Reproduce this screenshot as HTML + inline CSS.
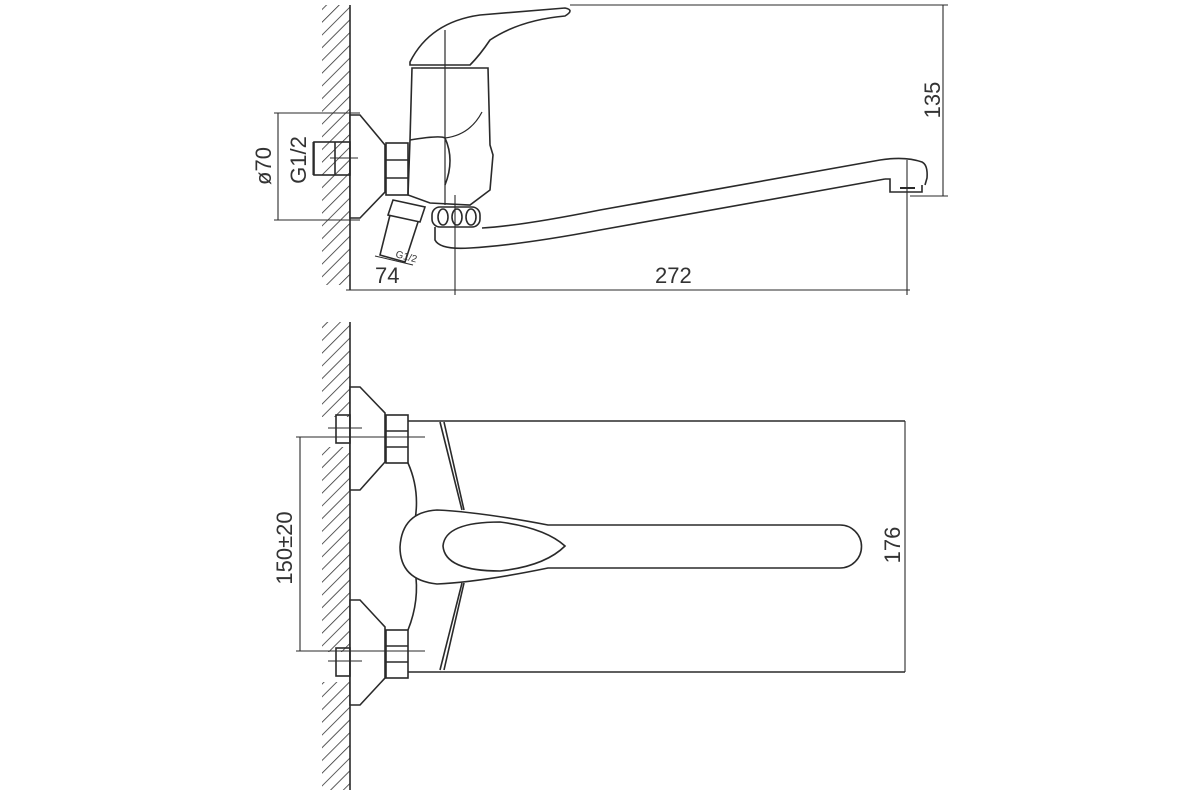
<!DOCTYPE html>
<html><head><style>body{margin:0;background:#fff}svg{display:block}</style></head><body>
<svg width="1200" height="800" viewBox="0 0 1200 800" xmlns="http://www.w3.org/2000/svg" font-family="Liberation Sans, sans-serif">
<defs>
<pattern id="h" width="9" height="9" patternUnits="userSpaceOnUse" patternTransform="rotate(45)">
<line x1="0" y1="0" x2="0" y2="9" stroke="#333" stroke-width="1.6"/></pattern>
</defs>
<g fill="none" stroke="#2a2a2a" stroke-width="1.6">
<!-- TOP VIEW -->
<rect x="322" y="5" width="28" height="280" fill="url(#h)" stroke="none"/>
<line x1="350" y1="5" x2="350" y2="290"/>
<!-- flange -->
<polygon points="350,115 360,115 385,145 385,192 360,218 350,218" fill="#fff"/>
<rect x="314" y="142" width="36" height="33"/>
<line x1="335" y1="142" x2="335" y2="175"/>
<line x1="330" y1="158" x2="358" y2="158" stroke-width="1"/>
<rect x="386" y="143" width="22" height="52"/>
<line x1="386" y1="160" x2="408" y2="160"/><line x1="386" y1="178" x2="408" y2="178"/>
<!-- body -->
<path d="M410,62 Q430,22 480,15 L565,8 Q575,10 565,16 Q520,20 490,40 Q480,55 470,65 L410,65 Z" fill="#fff"/>
<line x1="445" y1="30" x2="445" y2="205" stroke-width="1.2"/>
<path d="M412,68 L488,68 L490,145 L493,155 L490,190 L470,205 L430,203 L408,195 L410,140 Z"/>
<path d="M410,140 Q440,135 445,138 Q455,160 445,185" />
<path d="M445,138 Q470,135 482,112" stroke-width="1.2"/>
<rect x="432" y="207" width="48" height="20" rx="8"/>
<ellipse cx="443" cy="217" rx="5" ry="8"/><ellipse cx="457" cy="217" rx="5" ry="8"/><ellipse cx="471" cy="217" rx="5" ry="8"/>
<!-- spout -->
<path d="M482,228 Q520,226 600,210 L880,160 Q905,156 922,162 Q928,165 927,178 L925,185"/>
<path d="M435,227 L435,240 Q440,250 470,248 Q520,245 600,230 L885,179"/>
<path d="M885,179 L890,179 L890,192 L922,192 L922,185"/>
<line x1="900" y1="188" x2="915" y2="188" stroke-width="2"/>
<!-- lower G1/2 pipe -->
<path d="M393,200 L425,207 L420,222 L388,215 Z"/>
<path d="M390,215 L380,255 L405,262 L418,222"/>
<line x1="375" y1="256" x2="413" y2="265" stroke-width="1"/>
<!-- dims -->
<g stroke-width="1.1">
<line x1="570" y1="5" x2="948" y2="5"/>
<line x1="943" y1="5" x2="943" y2="196"/>
<line x1="910" y1="196" x2="948" y2="196"/>
<line x1="278" y1="113" x2="278" y2="220"/>
<line x1="274" y1="113" x2="360" y2="113"/><line x1="274" y1="220" x2="360" y2="220"/>
<line x1="313" y1="142" x2="313" y2="175"/>
<line x1="346" y1="290" x2="910" y2="290"/>
<line x1="455" y1="195" x2="455" y2="295"/>
<line x1="907" y1="160" x2="907" y2="295"/>
</g>
<!-- BOTTOM VIEW -->
<rect x="322" y="322" width="28" height="95" fill="url(#h)" stroke="none"/>
<rect x="322" y="447" width="28" height="205" fill="url(#h)" stroke="none"/>
<rect x="322" y="682" width="28" height="108" fill="url(#h)" stroke="none"/>
<line x1="350" y1="322" x2="350" y2="790"/>
<polygon points="350,387 360,387 385,413 385,462 360,490 350,490" fill="#fff"/>
<polygon points="350,600 360,600 385,627 385,678 360,705 350,705" fill="#fff"/>
<rect x="336" y="415" width="14" height="28"/><rect x="336" y="648" width="14" height="28"/>
<rect x="386" y="415" width="22" height="48"/>
<line x1="386" y1="431" x2="408" y2="431"/><line x1="386" y1="447" x2="408" y2="447"/>
<rect x="386" y="630" width="22" height="48"/>
<line x1="386" y1="646" x2="408" y2="646"/><line x1="386" y1="662" x2="408" y2="662"/>
<line x1="408" y1="421" x2="905" y2="421"/>
<line x1="408" y1="672" x2="905" y2="672"/>
<line x1="440" y1="422" x2="462" y2="510"/><line x1="444" y1="422" x2="464" y2="510"/>
<line x1="462" y1="583" x2="440" y2="670"/><line x1="464" y1="583" x2="444" y2="670"/>
<path d="M408,463 Q420,490 415,520"/><path d="M408,630 Q420,600 415,570"/>
<path d="M437,510 Q480,512 548,525 L840,525 A21.5,21.5 0 0 1 840,568 L548,568 Q480,582 437,584 Q400,580 400,547 Q402,512 437,510 Z" fill="#fff"/>
<path d="M443,546 Q445,522 500,522 Q545,528 565,546 Q545,566 500,571 Q445,571 443,546 Z"/>
<g stroke-width="1.1">
<line x1="905" y1="421" x2="905" y2="672"/>
<line x1="300" y1="437" x2="300" y2="651"/>
<line x1="296" y1="437" x2="425" y2="437"/><line x1="296" y1="651" x2="425" y2="651"/>
<line x1="328" y1="428" x2="362" y2="428"/><line x1="328" y1="661" x2="362" y2="661"/>
</g>
</g>
<g fill="#333" font-size="22">
<text x="375" y="283">74</text>
<text x="655" y="283">272</text>
<text transform="translate(940,100) rotate(-90)" text-anchor="middle">135</text>
<text transform="translate(271,166) rotate(-90)" text-anchor="middle">ø70</text>
<text transform="translate(306,160) rotate(-90)" text-anchor="middle">G1/2</text>
<text transform="translate(395,257) rotate(15)" font-size="10">G1/2</text>
<text transform="translate(900,545) rotate(-90)" text-anchor="middle">176</text>
<text transform="translate(292,548) rotate(-90)" text-anchor="middle">150±20</text>
</g>
</svg>
</body></html>
